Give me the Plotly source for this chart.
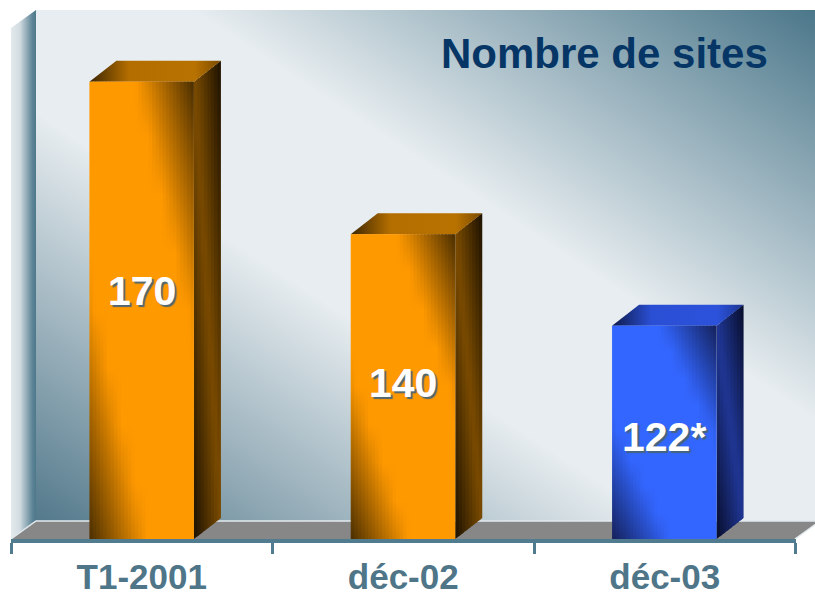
import base64
import plotly.graph_objects as go

# ---------------- data ----------------
categories = ["T1-2001", "déc-02", "déc-03"]
values = [170, 140, 122]
value_labels = ["170", "140", "122*"]
chart_title = "Nombre de sites"

# ---------------- geometry (pixel calibration -> data units) ----------------
W, H = 815, 597
PX_X0 = 11.0          # pixel of category boundary -0.5
PX_PER_CAT = 261.33
PX_Y_BASE = 539.0     # pixel of axis base value
PX_PER_UNIT = 5.08
Y_BASE = 80           # value at the floor (axis minimum)


def xd(px):
    return (px - PX_X0) / PX_PER_CAT - 0.5


def yd(py):
    return Y_BASE + (PX_Y_BASE - py) / PX_PER_UNIT


BAR_W = 0.40
BAR_DX = 27 / PX_PER_CAT
BAR_DY = 21 / PX_PER_UNIT
WALL_DX = 25 / PX_PER_CAT
WALL_DY = 18 / PX_PER_UNIT
WALL_TOP = yd(10)

SLATE = "#517b8e"

styles = [
    dict(front=[(0, "#4a2e00"), (0.28, "#ff9900"), (0.72, "#ff9900"), (1, "#4a2e00")],
         side=[(0, "#1c1100"), (0.5, "#7c4c00"), (1, "#1c1100")],
         top=[[0, "#3c2600"], [0.3, "#b46e00"], [0.8, "#b87200"], [1, "#7a4a00"]]),
    dict(front=[(0, "#4a2e00"), (0.28, "#ff9900"), (0.72, "#ff9900"), (1, "#4a2e00")],
         side=[(0, "#1c1100"), (0.5, "#7c4c00"), (1, "#1c1100")],
         top=[[0, "#3c2600"], [0.3, "#b46e00"], [0.8, "#b87200"], [1, "#7a4a00"]]),
    dict(front=[(0, "#14215a"), (0.28, "#3366ff"), (0.72, "#3366ff"), (1, "#14215a")],
         side=[(0, "#070d2a"), (0.5, "#203796"), (1, "#070d2a")],
         top=[[0, "#0f1a4a"], [0.3, "#2a4fd4"], [0.8, "#2c52dc"], [1, "#1d358f"]]),
]


def hex2rgb(h):
    return tuple(int(h[i:i + 2], 16) for i in (1, 3, 5))


def interp(stops, p):
    p = min(max(p, 0.0), 1.0)
    for (p0, c0), (p1, c1) in zip(stops, stops[1:]):
        if p <= p1:
            f = 0 if p1 == p0 else (p - p0) / (p1 - p0)
            a, b = hex2rgb(c0), hex2rgb(c1)
            return "rgb(%d,%d,%d)" % tuple(round(a[i] + (b[i] - a[i]) * f) for i in range(3))
    return "rgb(%d,%d,%d)" % hex2rgb(stops[-1][1])


def diag_face(fig, xl, xr, yb, yt, slope, stops, n):
    """Face with vertical left/right edges; diagonal (Office-like) gradient."""
    span = xr - xl
    for k in range(n):
        u0, u1 = k / n, (k + 1) / n
        um = (u0 + u1) / 2
        x0 = xl + u0 * span
        x1 = xl + min(1.0, u1 + (0.6 / n if k < n - 1 else 0)) * span
        xm = xl + um * span
        ybx = lambda x: yb + slope * (x - xl)
        ytx = lambda x: yt + slope * (x - xl)
        cs = []
        for j in range(9):
            q = j / 8            # 0 bottom -> 1 top
            t = 1 - q            # 0 top -> 1 bottom
            p = (t + 1 - um) / 2
            cs.append([q, interp(stops, p)])
        fig.add_trace(go.Scatter(
            x=[x0, x1, x1, x0, x0],
            y=[ybx(x0), ybx(x1), ytx(x1), ytx(x0), ybx(x0)],
            mode="lines", line=dict(width=0), fill="toself",
            fillgradient=dict(type="vertical", colorscale=cs,
                              start=ybx(xm), stop=ytx(xm)),
            hoverinfo="skip", showlegend=False))


fig = go.Figure()

# ---------------- back wall (diagonal gradient image) ----------------
svg = ('<svg xmlns="http://www.w3.org/2000/svg" width="100" height="100" viewBox="0 0 100 100" '
       'preserveAspectRatio="none"><defs><linearGradient id="g" x1="1" y1="0" x2="0" y2="1">'
       '<stop offset="0" stop-color="#4b778a"/><stop offset="0.4" stop-color="#e7edf0"/>'
       '<stop offset="0.6" stop-color="#e7edf0"/><stop offset="1" stop-color="#53798b"/>'
       '</linearGradient></defs><rect width="100" height="100" fill="url(#g)"/></svg>')
wall_src = "data:image/svg+xml;base64," + base64.b64encode(svg.encode()).decode()
wall_x0 = -0.5 + WALL_DX
wall_x1 = xd(W)
fig.add_layout_image(dict(source=wall_src, xref="x", yref="y", x=wall_x0, y=WALL_TOP,
                          sizex=wall_x1 - wall_x0, sizey=WALL_TOP - (Y_BASE + WALL_DY),
                          xanchor="left", yanchor="top", sizing="stretch", layer="below"))

# ---------------- left side wall ----------------
fig.add_trace(go.Scatter(
    x=[-0.5, wall_x0, wall_x0, -0.5, -0.5],
    y=[Y_BASE, Y_BASE + WALL_DY, WALL_TOP, WALL_TOP - WALL_DY, Y_BASE],
    mode="lines", line=dict(width=0), fill="toself",
    fillgradient=dict(type="horizontal",
                      colorscale=[[0, "#e4eaed"], [0.35, "#d2dce1"], [0.85, "#5e8597"], [1, "#4d788b"]]),
    hoverinfo="skip", showlegend=False))

# ---------------- floor ----------------
fig.add_trace(go.Scatter(
    x=[-0.5, 2.5, 2.5 + WALL_DX, wall_x0, -0.5],
    y=[Y_BASE, Y_BASE, Y_BASE + WALL_DY, Y_BASE + WALL_DY, Y_BASE],
    mode="lines", line=dict(width=0), fill="toself", fillcolor="#878787",
    hoverinfo="skip", showlegend=False))
fig.add_trace(go.Scatter(
    x=[-0.5, wall_x0, 2.5 + WALL_DX, 2.5],
    y=[Y_BASE, Y_BASE + WALL_DY, Y_BASE + WALL_DY, Y_BASE],
    mode="lines", line=dict(width=1.5, color="#e2eaee"),
    hoverinfo="skip", showlegend=False))

# ---------------- 3D bars ----------------
for i, (v, st) in enumerate(zip(values, styles)):
    xl, xr = i - BAR_W / 2, i + BAR_W / 2
    slope = BAR_DY / BAR_DX
    # side face
    diag_face(fig, xr, xr + BAR_DX, Y_BASE, v, slope, st["side"], 8)
    # top face
    fig.add_trace(go.Scatter(
        x=[xl, xr, xr + BAR_DX, xl + BAR_DX, xl],
        y=[v, v, v + BAR_DY, v + BAR_DY, v],
        mode="lines", line=dict(width=0), fill="toself",
        fillgradient=dict(type="horizontal", colorscale=st["top"],
                          start=xl, stop=xr + BAR_DX),
        hoverinfo="skip", showlegend=False))
    # front face
    diag_face(fig, xl, xr, Y_BASE, v, 0.0, st["front"], 30)

# ---------------- category axis (labels + boundary ticks) ----------------
fig.add_trace(go.Scatter(x=categories, y=[Y_BASE] * 3, xaxis="x2", yaxis="y",
                         mode="markers", marker=dict(size=1, opacity=0),
                         hoverinfo="skip", showlegend=False))

# ---------------- value labels ----------------
for i, (v, lab) in enumerate(zip(values, value_labels)):
    fig.add_annotation(x=i, y=67 + 0.6 * (v - 67), xref="x", yref="y", text=lab,
                       showarrow=False, xanchor="center", yanchor="middle",
                       font=dict(family="Liberation Sans, Arial, sans-serif", size=41,
                                 color="white", weight="bold",
                                 shadow="2px 2px 1px rgba(70,100,118,0.95)"))

# ---------------- title ----------------
fig.add_annotation(x=770 / W, y=1 - 53 / H, xref="paper", yref="paper", text=chart_title,
                   showarrow=False, xanchor="right", yanchor="middle",
                   font=dict(family="Liberation Sans, Arial, sans-serif", size=42,
                             color="#063666", weight="bold"))

fig.update_layout(
    width=W, height=H, margin=dict(l=0, r=0, t=0, b=0),
    paper_bgcolor="white", plot_bgcolor="rgba(0,0,0,0)",
    showlegend=False,
    xaxis=dict(range=[xd(0), xd(W)], visible=False, domain=[0, 1], fixedrange=True),
    yaxis=dict(range=[yd(H), yd(0)], visible=False, domain=[0, 1], fixedrange=True),
    xaxis2=dict(type="category", categoryarray=categories, categoryorder="array",
                range=[-0.5, 2.5], domain=[PX_X0 / W, 795.5 / W],
                anchor="free", position=(H - 541) / H,
                showline=True, linecolor=SLATE, linewidth=4,
                ticks="outside", tickson="boundaries", ticklen=11, tickwidth=3, tickcolor=SLATE,
                ticklabelstandoff=4,
                showgrid=False, zeroline=False, fixedrange=True,
                tickfont=dict(family="Liberation Sans, Arial, sans-serif", size=35,
                              color="#4f7588", weight="bold")),
)

fig.write_html("out.html", config={"displayModeBar": False},
               post_script="document.body.style.margin='0';document.body.style.overflow='hidden';")
